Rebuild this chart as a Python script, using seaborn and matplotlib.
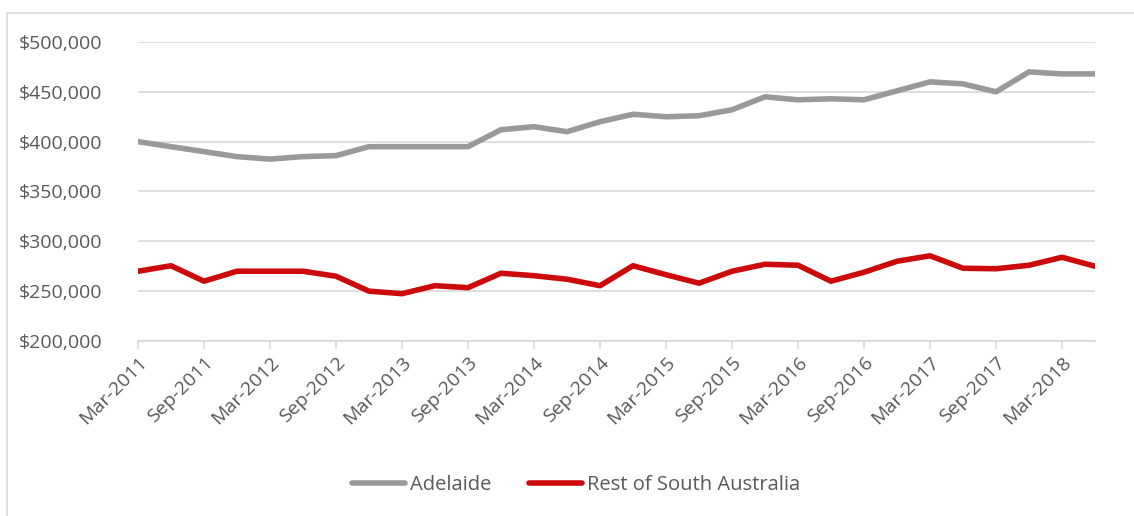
import matplotlib
matplotlib.use("Agg")
import matplotlib.pyplot as plt
from matplotlib.patches import Rectangle
from matplotlib.lines import Line2D
from matplotlib.ticker import FuncFormatter, MultipleLocator
import seaborn as sns
import pandas as pd

quarters = [f"{m}-{y}" for y in range(2011, 2019) for m in ["Mar", "Jun", "Sep", "Dec"]][:30]
adelaide = [400000, 395000, 390000, 385000, 382500, 385000, 386000, 395000, 395000, 395000,
            395000, 412000, 415000, 410000, 420000, 427500, 425000, 426000, 432000, 445000,
            442000, 443000, 442000, 451000, 460000, 458000, 450000, 470000, 468000, 468000]
rest_sa = [270000, 275500, 260000, 270000, 270000, 270000, 265000, 250000, 247500, 255500,
           253500, 268000, 265500, 262000, 255500, 275500, 266500, 258000, 270000, 277000,
           276000, 260000, 269000, 280000, 285500, 273000, 272500, 276000, 284000, 275000]
series_names = ["Adelaide", "Rest of South Australia"]
colors = ["#999999", "#cc0a0a"]

df = pd.DataFrame({
    "idx": list(range(len(quarters))) * 2,
    "value": adelaide + rest_sa,
    "series": [series_names[0]] * len(quarters) + [series_names[1]] * len(quarters),
})

sns.set_theme(style="white")
plt.rcParams["font.family"] = ["Open Sans", "DejaVu Sans"]

fig = plt.figure(figsize=(11.34, 5.16), dpi=100)
ax = fig.add_axes([138 / 1134, 1 - 341 / 516, (1095 - 138) / 1134, (341 - 42) / 516])

sns.lineplot(data=df, x="idx", y="value", hue="series", palette=colors,
             linewidth=4, ax=ax, legend=False, solid_capstyle="round")

ax.set_xlim(0, len(quarters) - 1)
ax.set_ylim(200000, 500000)
ax.yaxis.set_major_locator(MultipleLocator(50000))
ax.yaxis.set_major_formatter(FuncFormatter(lambda v, p: f"${v:,.0f}"))
ax.set_xticks(range(0, len(quarters), 2))
ax.set_xticklabels(quarters[::2], rotation=45, ha="right", rotation_mode="anchor")
ax.grid(axis="y", color="#d9d9d9", linewidth=1.2)
ax.set_axisbelow(True)
for s in ["top", "right", "left"]:
    ax.spines[s].set_visible(False)
ax.spines["bottom"].set_color("#d9d9d9")
ax.spines["bottom"].set_linewidth(1.2)
ax.tick_params(axis="x", which="major", bottom=True, length=6, width=1.2, color="#d9d9d9",
               labelsize=14, labelcolor="#595959", pad=3)
ax.tick_params(axis="y", left=False, labelsize=14, labelcolor="#595959", pad=20)
ax.set_xlabel("")
ax.set_ylabel("")

handles = [Line2D([0], [0], color=c, lw=4, solid_capstyle="round") for c in colors]
fig.legend(handles, series_names, loc="center", bbox_to_anchor=(0.508, 1 - 485 / 516),
           ncol=2, frameon=False, fontsize=14.5, labelcolor="#595959",
           handlelength=2.6, handletextpad=0.25, columnspacing=1.9)

fig.patches.append(Rectangle((7 / 1134, -0.01), 1.2, 1 - 13 / 516 + 0.01, transform=fig.transFigure,
                             fill=False, edgecolor="#d9d9d9", linewidth=1.2))

fig.savefig("out.png", dpi=100)
